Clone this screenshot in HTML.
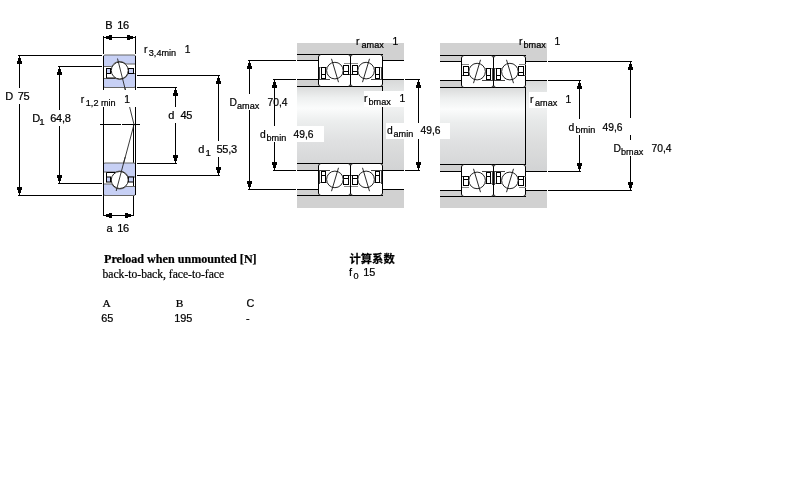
<!DOCTYPE html>
<html lang="zh"><head><meta charset="utf-8"><title>Bearing drawing</title>
<style>html,body{margin:0;padding:0;background:#fff}body{width:800px;height:500px;overflow:hidden}svg{display:block}rect,path{shape-rendering:crispEdges}circle,.aa{shape-rendering:auto}g.t{filter:grayscale(1)}g.t text{stroke:#000;stroke-width:0.22px}</style></head>
<body>
<svg width="800" height="500" viewBox="0 0 800 500" font-family="'Liberation Sans', sans-serif" fill="#000">
<defs>
<linearGradient id="shaft" x1="0" y1="0" x2="0" y2="1"><stop offset="0" stop-color="#dadbdb"/><stop offset="0.14" stop-color="#eef0f0"/><stop offset="0.28" stop-color="#fbfcfc"/><stop offset="0.45" stop-color="#eceeee"/><stop offset="0.7" stop-color="#e0e1e2"/><stop offset="1" stop-color="#d6d7d8"/></linearGradient>
<linearGradient id="shoulder" x1="0" y1="0" x2="0" y2="1"><stop offset="0" stop-color="#d8d9d9"/><stop offset="0.14" stop-color="#e6e8e8"/><stop offset="0.28" stop-color="#f2f3f3"/><stop offset="0.45" stop-color="#e6e8e8"/><stop offset="0.7" stop-color="#dcdddd"/><stop offset="1" stop-color="#d2d3d4"/></linearGradient>
</defs>
<rect width="800" height="500" fill="#fff"/>
<rect x="103" y="36" width="1" height="18" fill="#000"/>
<rect x="135" y="36" width="1" height="18" fill="#000"/>
<rect x="103" y="37" width="33" height="1" fill="#000"/>
<path d="M104 37.0v1h2v1h3v1h3v-5h-3v1h-3v1z" fill="#000"/>
<path d="M135 37.0v1h-2v1h-3v1h-3v-5h3v1h3v1z" fill="#000"/>
<rect x="103" y="88" width="1" height="128" fill="#000"/>
<rect x="135" y="88" width="1" height="107" fill="#000"/>
<rect x="133" y="125" width="1" height="91" fill="#000"/>
<rect x="100" y="124" width="21" height="1" fill="#000"/>
<rect x="122" y="124" width="18" height="1" fill="#000"/>
<path class="aa" d="M117.5 58.5L134 124.5L116.2 191" stroke="#222" stroke-width="0.9" fill="none"/>
<g transform="translate(103.5 55) scale(1 1)">
<path class="aa" d="M1.5 0H30.5Q32 0 32 1.5V9H22.47A9 9 0 0 0 8.19 11.5H0V1.5Q0 0 1.5 0Z" fill="#c7d0f5" stroke="#666" stroke-width="1"/>
<path class="aa" d="M0 23.5H12.13A9 9 0 0 0 24.74 18.5H32V31.0Q32 32.5 30.5 32.5H1.5Q0 32.5 0 31.0Z" fill="#c7d0f5" stroke="#666" stroke-width="1"/>
<rect class="aa" x="3" y="13.5" width="4" height="5" fill="#c7d0f5" stroke="#000" stroke-width="1"/>
<rect class="aa" x="25" y="13.5" width="5" height="5" fill="#c7d0f5" stroke="#000" stroke-width="1"/>
<path class="aa" d="M3 18.5V23H12" fill="none" stroke="#000" stroke-width="1"/>
<circle cx="16.25" cy="15.5" r="8.5" fill="#fff" stroke="#222" stroke-width="1"/>
</g>
<g transform="translate(103.5 195.5) scale(1 -1)">
<path class="aa" d="M1.5 0H30.5Q32 0 32 1.5V9H22.47A9 9 0 0 0 8.19 11.5H0V1.5Q0 0 1.5 0Z" fill="#c7d0f5" stroke="#666" stroke-width="1"/>
<path class="aa" d="M0 23.5H12.13A9 9 0 0 0 24.74 18.5H32V31.0Q32 32.5 30.5 32.5H1.5Q0 32.5 0 31.0Z" fill="#c7d0f5" stroke="#666" stroke-width="1"/>
<rect class="aa" x="3" y="13.5" width="4" height="5" fill="#c7d0f5" stroke="#000" stroke-width="1"/>
<rect class="aa" x="25" y="13.5" width="5" height="5" fill="#c7d0f5" stroke="#000" stroke-width="1"/>
<path class="aa" d="M3 18.5V23H12" fill="none" stroke="#000" stroke-width="1"/>
<circle cx="16.25" cy="15.5" r="8.5" fill="#fff" stroke="#222" stroke-width="1"/>
</g>
<rect x="103" y="56" width="1" height="32" fill="#000"/>
<rect x="135" y="56" width="1" height="32" fill="#000"/>
<rect x="103" y="163" width="1" height="32" fill="#000"/>
<rect x="135" y="163" width="1" height="32" fill="#000"/>
<path class="aa" d="M117.5 58.5L125.5 90.5 M125.2 157L116.2 191" stroke="#222" stroke-width="0.9" fill="none"/>
<rect x="103" y="215" width="31" height="1" fill="#000"/>
<path d="M104 215.0v1h2v1h3v1h3v-5h-3v1h-3v1z" fill="#000"/>
<path d="M133 215.0v1h-2v1h-3v1h-3v-5h3v1h3v1z" fill="#000"/>
<rect x="18" y="55" width="84" height="1" fill="#000"/>
<rect x="18" y="195" width="84" height="1" fill="#000"/>
<rect x="19" y="55" width="1" height="33" fill="#000"/>
<rect x="19" y="104" width="1" height="92" fill="#000"/>
<path d="M19.0 56h1v2h1v3h1v3h-5v-3h1v-3h1z" fill="#000"/>
<path d="M19.0 195h1v-2h1v-3h1v-3h-5v3h1v3h1z" fill="#000"/>
<rect x="58" y="66" width="44" height="1" fill="#000"/>
<rect x="58" y="183" width="44" height="1" fill="#000"/>
<rect x="59" y="66" width="1" height="44" fill="#000"/>
<rect x="59" y="126" width="1" height="58" fill="#000"/>
<path d="M59.0 67h1v2h1v3h1v3h-5v-3h1v-3h1z" fill="#000"/>
<path d="M59.0 183h1v-2h1v-3h1v-3h-5v3h1v3h1z" fill="#000"/>
<rect x="137" y="87" width="40" height="1" fill="#000"/>
<rect x="137" y="163" width="40" height="1" fill="#000"/>
<rect x="175" y="87" width="1" height="20" fill="#000"/>
<rect x="175" y="123" width="1" height="41" fill="#000"/>
<path d="M175.0 88h1v2h1v3h1v3h-5v-3h1v-3h1z" fill="#000"/>
<path d="M175.0 163h1v-2h1v-3h1v-3h-5v3h1v3h1z" fill="#000"/>
<rect x="137" y="75" width="83" height="1" fill="#000"/>
<rect x="137" y="175" width="83" height="1" fill="#000"/>
<rect x="218" y="75" width="1" height="66" fill="#000"/>
<rect x="218" y="157" width="1" height="19" fill="#000"/>
<path d="M218.0 76h1v2h1v3h1v3h-5v-3h1v-3h1z" fill="#000"/>
<path d="M218.0 175h1v-2h1v-3h1v-3h-5v3h1v3h1z" fill="#000"/>
<rect x="297" y="43" width="107" height="11" fill="#d1d1d1"/>
<rect x="297" y="196" width="107" height="12" fill="#d1d1d1"/>
<rect x="297" y="87" width="85" height="76" fill="url(#shaft)"/>
<rect x="297" y="55" width="21" height="5" fill="#d1d1d1"/>
<rect x="297" y="80" width="21" height="6" fill="#d1d1d1"/>
<rect x="297" y="164" width="21" height="6" fill="#d1d1d1"/>
<rect x="297" y="190" width="21" height="5" fill="#d1d1d1"/>
<rect x="383" y="54" width="21" height="6" fill="#d1d1d1"/>
<rect x="383" y="190" width="21" height="6" fill="#d1d1d1"/>
<rect x="383" y="80" width="21" height="90" fill="url(#shoulder)"/>
<rect x="297" y="54" width="86" height="1" fill="#000"/>
<rect x="297" y="60" width="22" height="1" fill="#000"/>
<rect x="297" y="79" width="22" height="1" fill="#000"/>
<rect x="297" y="86" width="86" height="1" fill="#000"/>
<rect x="382" y="60" width="22" height="1" fill="#000"/>
<rect x="382" y="79" width="22" height="1" fill="#000"/>
<rect x="297" y="195" width="86" height="1" fill="#000"/>
<rect x="297" y="189" width="22" height="1" fill="#000"/>
<rect x="297" y="170" width="22" height="1" fill="#000"/>
<rect x="297" y="163" width="86" height="1" fill="#000"/>
<rect x="382" y="189" width="22" height="1" fill="#000"/>
<rect x="382" y="170" width="22" height="1" fill="#000"/>
<rect x="382" y="86" width="1" height="78" fill="#000"/>
<g transform="translate(318.5 54.5) scale(1 1)">
<rect class="aa" x="0" y="0" width="32" height="32" rx="2.5" ry="2.5" fill="#fff" stroke="#000" stroke-width="1"/>
<path d="M0.5 13H8.5 M25 9H32" stroke="#888" stroke-width="1" fill="none"/>
<path d="M0.5 25H11.5 M30 20H32 M1 12V25" stroke="#444" stroke-width="1" fill="none"/>
<rect x="3" y="13" width="4" height="7" fill="#fff" stroke="#000" stroke-width="1"/>
<rect x="3" y="20" width="4" height="4" fill="#fff" stroke="#000" stroke-width="1"/>
<rect x="25" y="11" width="5" height="6" fill="#fff" stroke="#000" stroke-width="1"/>
<rect x="25" y="17" width="5" height="3" fill="#fff" stroke="#000" stroke-width="1"/>
<circle cx="16.4" cy="16.1" r="8.3" fill="#fff" stroke="#222" stroke-width="1"/>
<path class="aa" d="M13 4.3L20 27.7" stroke="#111" stroke-width="0.9" fill="none"/>
</g>
<g transform="translate(382.5 54.5) scale(-1 1)">
<rect class="aa" x="0" y="0" width="32" height="32" rx="2.5" ry="2.5" fill="#fff" stroke="#000" stroke-width="1"/>
<path d="M0.5 13H8.5 M25 9H32" stroke="#888" stroke-width="1" fill="none"/>
<path d="M0.5 25H11.5 M30 20H32 M1 12V25" stroke="#444" stroke-width="1" fill="none"/>
<rect x="3" y="13" width="4" height="7" fill="#fff" stroke="#000" stroke-width="1"/>
<rect x="3" y="20" width="4" height="4" fill="#fff" stroke="#000" stroke-width="1"/>
<rect x="25" y="11" width="5" height="6" fill="#fff" stroke="#000" stroke-width="1"/>
<rect x="25" y="17" width="5" height="3" fill="#fff" stroke="#000" stroke-width="1"/>
<circle cx="16.4" cy="16.1" r="8.3" fill="#fff" stroke="#222" stroke-width="1"/>
<path class="aa" d="M13 4.3L20 27.7" stroke="#111" stroke-width="0.9" fill="none"/>
</g>
<g transform="translate(318.5 195.5) scale(1 -1)">
<rect class="aa" x="0" y="0" width="32" height="32" rx="2.5" ry="2.5" fill="#fff" stroke="#000" stroke-width="1"/>
<path d="M0.5 13H8.5 M25 9H32" stroke="#888" stroke-width="1" fill="none"/>
<path d="M0.5 25H11.5 M30 20H32 M1 12V25" stroke="#444" stroke-width="1" fill="none"/>
<rect x="3" y="13" width="4" height="7" fill="#fff" stroke="#000" stroke-width="1"/>
<rect x="3" y="20" width="4" height="4" fill="#fff" stroke="#000" stroke-width="1"/>
<rect x="25" y="11" width="5" height="6" fill="#fff" stroke="#000" stroke-width="1"/>
<rect x="25" y="17" width="5" height="3" fill="#fff" stroke="#000" stroke-width="1"/>
<circle cx="16.4" cy="16.1" r="8.3" fill="#fff" stroke="#222" stroke-width="1"/>
<path class="aa" d="M13 4.3L20 27.7" stroke="#111" stroke-width="0.9" fill="none"/>
</g>
<g transform="translate(382.5 195.5) scale(-1 -1)">
<rect class="aa" x="0" y="0" width="32" height="32" rx="2.5" ry="2.5" fill="#fff" stroke="#000" stroke-width="1"/>
<path d="M0.5 13H8.5 M25 9H32" stroke="#888" stroke-width="1" fill="none"/>
<path d="M0.5 25H11.5 M30 20H32 M1 12V25" stroke="#444" stroke-width="1" fill="none"/>
<rect x="3" y="13" width="4" height="7" fill="#fff" stroke="#000" stroke-width="1"/>
<rect x="3" y="20" width="4" height="4" fill="#fff" stroke="#000" stroke-width="1"/>
<rect x="25" y="11" width="5" height="6" fill="#fff" stroke="#000" stroke-width="1"/>
<rect x="25" y="17" width="5" height="3" fill="#fff" stroke="#000" stroke-width="1"/>
<circle cx="16.4" cy="16.1" r="8.3" fill="#fff" stroke="#222" stroke-width="1"/>
<path class="aa" d="M13 4.3L20 27.7" stroke="#111" stroke-width="0.9" fill="none"/>
</g>
<rect x="248" y="60" width="48" height="1" fill="#000"/>
<rect x="248" y="189" width="48" height="1" fill="#000"/>
<rect x="249" y="60" width="1" height="34" fill="#000"/>
<rect x="249" y="110" width="1" height="80" fill="#000"/>
<path d="M249.0 61h1v2h1v3h1v3h-5v-3h1v-3h1z" fill="#000"/>
<path d="M249.0 189h1v-2h1v-3h1v-3h-5v3h1v3h1z" fill="#000"/>
<rect x="273" y="79" width="23" height="1" fill="#000"/>
<rect x="273" y="170" width="23" height="1" fill="#000"/>
<rect x="274" y="79" width="1" height="47" fill="#000"/>
<rect x="274" y="142" width="1" height="29" fill="#000"/>
<path d="M274.0 80h1v2h1v3h1v3h-5v-3h1v-3h1z" fill="#000"/>
<path d="M274.0 170h1v-2h1v-3h1v-3h-5v3h1v3h1z" fill="#000"/>
<rect x="405" y="79" width="15" height="1" fill="#000"/>
<rect x="405" y="170" width="15" height="1" fill="#000"/>
<rect x="418" y="79" width="1" height="44" fill="#000"/>
<rect x="418" y="139" width="1" height="32" fill="#000"/>
<path d="M418.0 80h1v2h1v3h1v3h-5v-3h1v-3h1z" fill="#000"/>
<path d="M418.0 170h1v-2h1v-3h1v-3h-5v3h1v3h1z" fill="#000"/>
<rect x="440" y="43" width="107" height="12" fill="#d1d1d1"/>
<rect x="440" y="197" width="107" height="11" fill="#d1d1d1"/>
<rect x="440" y="88" width="85" height="76" fill="url(#shaft)"/>
<rect x="440" y="56" width="21" height="5" fill="#d1d1d1"/>
<rect x="440" y="81" width="21" height="6" fill="#d1d1d1"/>
<rect x="440" y="165" width="21" height="6" fill="#d1d1d1"/>
<rect x="440" y="191" width="21" height="5" fill="#d1d1d1"/>
<rect x="526" y="55" width="21" height="6" fill="#d1d1d1"/>
<rect x="526" y="191" width="21" height="6" fill="#d1d1d1"/>
<rect x="526" y="81" width="21" height="90" fill="url(#shoulder)"/>
<rect x="440" y="55" width="86" height="1" fill="#000"/>
<rect x="440" y="61" width="22" height="1" fill="#000"/>
<rect x="440" y="80" width="22" height="1" fill="#000"/>
<rect x="440" y="87" width="86" height="1" fill="#000"/>
<rect x="525" y="61" width="22" height="1" fill="#000"/>
<rect x="525" y="80" width="22" height="1" fill="#000"/>
<rect x="440" y="196" width="86" height="1" fill="#000"/>
<rect x="440" y="190" width="22" height="1" fill="#000"/>
<rect x="440" y="171" width="22" height="1" fill="#000"/>
<rect x="440" y="164" width="86" height="1" fill="#000"/>
<rect x="525" y="190" width="22" height="1" fill="#000"/>
<rect x="525" y="171" width="22" height="1" fill="#000"/>
<rect x="525" y="87" width="1" height="78" fill="#000"/>
<g transform="translate(493.5 55.5) scale(-1 1)">
<rect class="aa" x="0" y="0" width="32" height="32" rx="2.5" ry="2.5" fill="#fff" stroke="#000" stroke-width="1"/>
<path d="M0.5 13H8.5 M25 9H32" stroke="#888" stroke-width="1" fill="none"/>
<path d="M0.5 25H11.5 M30 20H32 M1 12V25" stroke="#444" stroke-width="1" fill="none"/>
<rect x="3" y="13" width="4" height="7" fill="#fff" stroke="#000" stroke-width="1"/>
<rect x="3" y="20" width="4" height="4" fill="#fff" stroke="#000" stroke-width="1"/>
<rect x="25" y="11" width="5" height="6" fill="#fff" stroke="#000" stroke-width="1"/>
<rect x="25" y="17" width="5" height="3" fill="#fff" stroke="#000" stroke-width="1"/>
<circle cx="16.4" cy="16.1" r="8.3" fill="#fff" stroke="#222" stroke-width="1"/>
<path class="aa" d="M13 4.3L20 27.7" stroke="#111" stroke-width="0.9" fill="none"/>
</g>
<g transform="translate(493.5 55.5) scale(1 1)">
<rect class="aa" x="0" y="0" width="32" height="32" rx="2.5" ry="2.5" fill="#fff" stroke="#000" stroke-width="1"/>
<path d="M0.5 13H8.5 M25 9H32" stroke="#888" stroke-width="1" fill="none"/>
<path d="M0.5 25H11.5 M30 20H32 M1 12V25" stroke="#444" stroke-width="1" fill="none"/>
<rect x="3" y="13" width="4" height="7" fill="#fff" stroke="#000" stroke-width="1"/>
<rect x="3" y="20" width="4" height="4" fill="#fff" stroke="#000" stroke-width="1"/>
<rect x="25" y="11" width="5" height="6" fill="#fff" stroke="#000" stroke-width="1"/>
<rect x="25" y="17" width="5" height="3" fill="#fff" stroke="#000" stroke-width="1"/>
<circle cx="16.4" cy="16.1" r="8.3" fill="#fff" stroke="#222" stroke-width="1"/>
<path class="aa" d="M13 4.3L20 27.7" stroke="#111" stroke-width="0.9" fill="none"/>
</g>
<g transform="translate(493.5 196.5) scale(-1 -1)">
<rect class="aa" x="0" y="0" width="32" height="32" rx="2.5" ry="2.5" fill="#fff" stroke="#000" stroke-width="1"/>
<path d="M0.5 13H8.5 M25 9H32" stroke="#888" stroke-width="1" fill="none"/>
<path d="M0.5 25H11.5 M30 20H32 M1 12V25" stroke="#444" stroke-width="1" fill="none"/>
<rect x="3" y="13" width="4" height="7" fill="#fff" stroke="#000" stroke-width="1"/>
<rect x="3" y="20" width="4" height="4" fill="#fff" stroke="#000" stroke-width="1"/>
<rect x="25" y="11" width="5" height="6" fill="#fff" stroke="#000" stroke-width="1"/>
<rect x="25" y="17" width="5" height="3" fill="#fff" stroke="#000" stroke-width="1"/>
<circle cx="16.4" cy="16.1" r="8.3" fill="#fff" stroke="#222" stroke-width="1"/>
<path class="aa" d="M13 4.3L20 27.7" stroke="#111" stroke-width="0.9" fill="none"/>
</g>
<g transform="translate(493.5 196.5) scale(1 -1)">
<rect class="aa" x="0" y="0" width="32" height="32" rx="2.5" ry="2.5" fill="#fff" stroke="#000" stroke-width="1"/>
<path d="M0.5 13H8.5 M25 9H32" stroke="#888" stroke-width="1" fill="none"/>
<path d="M0.5 25H11.5 M30 20H32 M1 12V25" stroke="#444" stroke-width="1" fill="none"/>
<rect x="3" y="13" width="4" height="7" fill="#fff" stroke="#000" stroke-width="1"/>
<rect x="3" y="20" width="4" height="4" fill="#fff" stroke="#000" stroke-width="1"/>
<rect x="25" y="11" width="5" height="6" fill="#fff" stroke="#000" stroke-width="1"/>
<rect x="25" y="17" width="5" height="3" fill="#fff" stroke="#000" stroke-width="1"/>
<circle cx="16.4" cy="16.1" r="8.3" fill="#fff" stroke="#222" stroke-width="1"/>
<path class="aa" d="M13 4.3L20 27.7" stroke="#111" stroke-width="0.9" fill="none"/>
</g>
<rect x="548" y="80" width="33" height="1" fill="#000"/>
<rect x="548" y="171" width="33" height="1" fill="#000"/>
<rect x="579" y="80" width="1" height="39" fill="#000"/>
<rect x="579" y="135" width="1" height="37" fill="#000"/>
<path d="M579.0 81h1v2h1v3h1v3h-5v-3h1v-3h1z" fill="#000"/>
<path d="M579.0 171h1v-2h1v-3h1v-3h-5v3h1v3h1z" fill="#000"/>
<rect x="548" y="61" width="84" height="1" fill="#000"/>
<rect x="548" y="190" width="84" height="1" fill="#000"/>
<rect x="630" y="61" width="1" height="57" fill="#000"/>
<rect x="630" y="135" width="1" height="5" fill="#000"/>
<rect x="630" y="156" width="1" height="35" fill="#000"/>
<path d="M630.0 62h1v2h1v3h1v3h-5v-3h1v-3h1z" fill="#000"/>
<path d="M630.0 190h1v-2h1v-3h1v-3h-5v3h1v3h1z" fill="#000"/>
<rect x="78" y="90" width="59" height="17" fill="#fff"/>
<rect x="290" y="126" width="34" height="16" fill="#fff"/>
<rect x="364" y="91" width="49" height="16" fill="#fff"/>
<rect x="386" y="123" width="64" height="16" fill="#fff"/>
<rect x="440" y="123" width="10" height="16" fill="#fff"/>
<rect x="529" y="92" width="33" height="16" fill="#fff"/>
<g class="t">
<text x="105.3" y="29" font-size="11.0" text-anchor="start">B</text>
<text x="117.3" y="29" font-size="11.0" text-anchor="start" letter-spacing="-0.3">16</text>
<text x="144" y="53" font-size="10.3" text-anchor="start">r</text>
<text x="148.8" y="56" font-size="9.1" text-anchor="start">3,4min</text>
<text x="184.7" y="53" font-size="10.3" text-anchor="start">1</text>
<text x="5.3" y="100" font-size="11.0" text-anchor="start">D</text>
<text x="17.8" y="100" font-size="11.0" text-anchor="start" letter-spacing="-0.3">75</text>
<text x="32.3" y="122" font-size="11.0" text-anchor="start">D</text>
<text x="39.3" y="125" font-size="9.6" text-anchor="start">1</text>
<text x="50.3" y="122" font-size="11.0" text-anchor="start" letter-spacing="-0.3">64,8</text>
<text x="80.7" y="103" font-size="10.3" text-anchor="start">r</text>
<text x="85.8" y="106" font-size="9.1" text-anchor="start">1,2 min</text>
<text x="124.2" y="103" font-size="10.3" text-anchor="start">1</text>
<text x="168.3" y="119" font-size="11.0" text-anchor="start">d</text>
<text x="180.5" y="119" font-size="11.0" text-anchor="start" letter-spacing="-0.3">45</text>
<text x="198.3" y="153" font-size="11.0" text-anchor="start">d</text>
<text x="205.6" y="156" font-size="9.6" text-anchor="start">1</text>
<text x="216.5" y="153" font-size="11.0" text-anchor="start" letter-spacing="-0.3">55,3</text>
<text x="106.6" y="232" font-size="11.0" text-anchor="start">a</text>
<text x="117.3" y="232" font-size="11.0" text-anchor="start" letter-spacing="-0.3">16</text>
<text x="356" y="44.5" font-size="10.3" text-anchor="start">r</text>
<text x="361.5" y="47.6" font-size="9.1" text-anchor="start">amax</text>
<text x="392.5" y="44.5" font-size="10.3" text-anchor="start">1</text>
<text x="229.5" y="105.7" font-size="10.3" text-anchor="start">D</text>
<text x="237" y="108.6" font-size="9.1" text-anchor="start">amax</text>
<text x="267.5" y="105.7" font-size="10.3" text-anchor="start">70,4</text>
<text x="260" y="137.9" font-size="10.3" text-anchor="start">d</text>
<text x="266.5" y="140.6" font-size="9.1" text-anchor="start">bmin</text>
<text x="293.5" y="137.9" font-size="10.3" text-anchor="start">49,6</text>
<text x="364" y="102.3" font-size="10.3" text-anchor="start">r</text>
<text x="368.5" y="105.2" font-size="9.1" text-anchor="start">bmax</text>
<text x="399.5" y="102.3" font-size="10.3" text-anchor="start">1</text>
<text x="387" y="134.4" font-size="10.3" text-anchor="start">d</text>
<text x="393.5" y="137.3" font-size="9.1" text-anchor="start">amin</text>
<text x="420.5" y="134.4" font-size="10.3" text-anchor="start">49,6</text>
<text x="519" y="44.5" font-size="10.3" text-anchor="start">r</text>
<text x="523.5" y="47.6" font-size="9.1" text-anchor="start">bmax</text>
<text x="554.5" y="44.5" font-size="10.3" text-anchor="start">1</text>
<text x="530" y="102.8" font-size="10.3" text-anchor="start">r</text>
<text x="535" y="105.8" font-size="9.1" text-anchor="start">amax</text>
<text x="565.5" y="102.8" font-size="10.3" text-anchor="start">1</text>
<text x="568.5" y="130.5" font-size="10.3" text-anchor="start">d</text>
<text x="575.5" y="133.4" font-size="9.1" text-anchor="start">bmin</text>
<text x="602.5" y="130.5" font-size="10.3" text-anchor="start">49,6</text>
<text x="613.5" y="151.7" font-size="10.3" text-anchor="start">D</text>
<text x="621" y="154.6" font-size="9.1" text-anchor="start">bmax</text>
<text x="651.5" y="151.7" font-size="10.3" text-anchor="start">70,4</text>
<text x="104" y="263" font-size="12.1" font-family="'Liberation Serif', 'DejaVu Serif', serif" font-weight="bold" text-anchor="start">Preload when unmounted [N]</text>
<text x="102.5" y="277.5" font-size="11.6" font-family="'Liberation Serif', 'DejaVu Serif', serif" text-anchor="start">back-to-back, face-to-face</text>
<text x="102.5" y="307" font-size="11.4" font-family="'Liberation Serif', 'DejaVu Serif', serif" text-anchor="start">A</text>
<text x="175.8" y="307" font-size="11.4" font-family="'Liberation Serif', 'DejaVu Serif', serif" text-anchor="start">B</text>
<text x="246.5" y="307" font-size="10.8" text-anchor="start">C</text>
<text x="101.2" y="322" font-size="10.9" text-anchor="start">65</text>
<text x="174.2" y="322" font-size="10.9" text-anchor="start">195</text>
<text x="246" y="322" font-size="10.9" text-anchor="start">-</text>
<text x="349.5" y="263" font-size="11.3" font-family="'Liberation Sans', 'Noto Sans CJK SC', sans-serif" font-weight="bold" text-anchor="start">计算系数</text>
<text x="349" y="276.2" font-size="10.9" text-anchor="start">f</text>
<text x="353.5" y="278.8" font-size="9.1" text-anchor="start">0</text>
<text x="363.3" y="276.2" font-size="10.9" text-anchor="start">15</text>
</g>
</svg>
</body></html>
